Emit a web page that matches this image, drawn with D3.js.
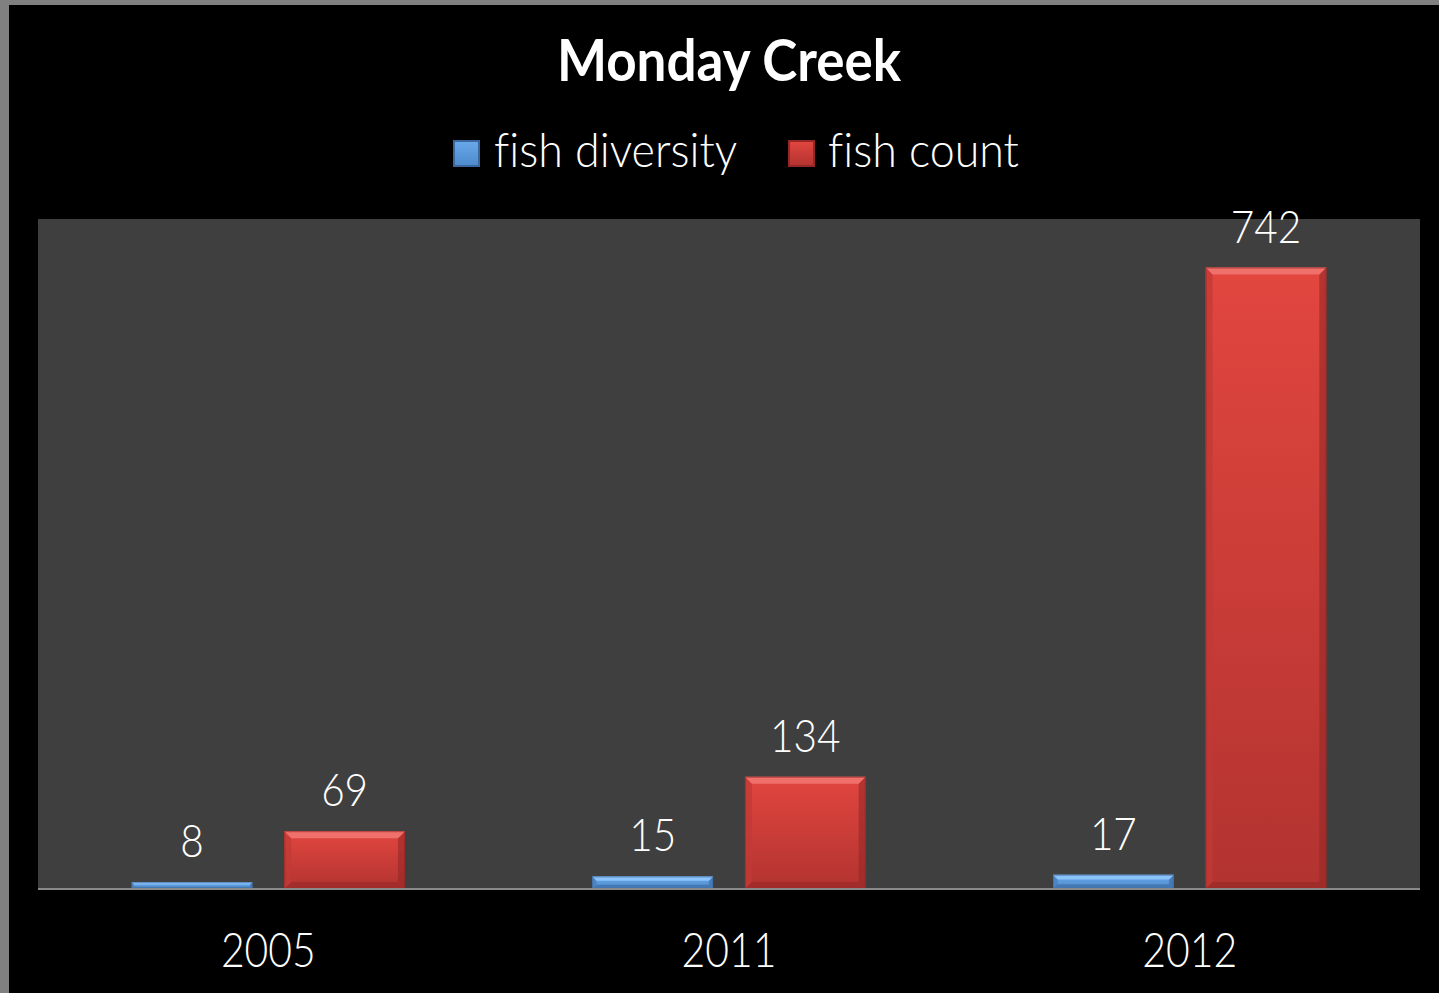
<!DOCTYPE html>
<html>
<head>
<meta charset="utf-8">
<script src="https://cdn.jsdelivr.net/npm/d3@7"></script>
<style>
  html, body { margin: 0; padding: 0; background: #808080; }
  svg { display: block; }
  text { font-family: Lato, "Open Sans", sans-serif; fill: #ffffff; font-variant-ligatures: none; }
</style>
</head>
<body>
<script>
// Monday Creek fish survey
const years = ["2005", "2011", "2012"];
const seriesNames = ["fish diversity", "fish count"];
const fishDiversity = [8, 15, 17];
const fishCount = [69, 134, 742];
const yMax = 800;

const W = 1439, H = 993;
const frame = { left: 9, top: 5 };
const plot = { x0: 38, x1: 1420, y0: 219, y1: 889 };

const svg = d3.select("body").append("svg").attr("width", W).attr("height", H);
const defs = svg.append("defs");

// chart backdrop inside the gray frame
svg.append("rect").attr("x", frame.left).attr("y", frame.top)
  .attr("width", W - frame.left).attr("height", H - frame.top).attr("fill", "#000");

// plot area
svg.append("rect").attr("x", plot.x0).attr("y", plot.y0)
  .attr("width", plot.x1 - plot.x0).attr("height", plot.y1 - plot.y0).attr("fill", "#3f3f3f");

const x0 = d3.scaleBand().domain(years).range([plot.x0, plot.x1]).padding(0);
const x1 = d3.scaleBand().domain(seriesNames).range([0, x0.bandwidth()])
  .paddingInner(0.209).paddingOuter(0.614);
const y = d3.scaleLinear().domain([0, yMax]).range([plot.y1, plot.y0]);

const palette = {
  "fish diversity": { top: "#6aa9ea", bottom: "#4d8acb", hi: "#8fc6ff", lo: "#3a689e", side: "#4a7fba" },
  "fish count":     { top: "#e2463f", bottom: "#b23330", hi: "#f27670", lo: "#952826", side: "#c23a36" }
};

seriesNames.forEach((s, i) => {
  const g = defs.append("linearGradient").attr("id", "grad" + i)
    .attr("x1", 0).attr("y1", 0).attr("x2", 0).attr("y2", 1);
  g.append("stop").attr("offset", "0%").attr("stop-color", palette[s].top);
  g.append("stop").attr("offset", "100%").attr("stop-color", palette[s].bottom);
});

const rows = years.map((yr, i) => ({
  year: yr,
  values: [
    { series: seriesNames[0], idx: 0, value: fishDiversity[i] },
    { series: seriesNames[1], idx: 1, value: fishCount[i] }
  ]
}));

const groups = svg.selectAll("g.year").data(rows).join("g")
  .attr("class", "year")
  .attr("transform", d => `translate(${x0(d.year)},0)`);

const bars = groups.selectAll("g.bar").data(d => d.values).join("g").attr("class", "bar");

bars.each(function (d) {
  const g = d3.select(this);
  const bx = x1(d.series), bw = x1.bandwidth();
  const top = y(d.value), bot = y(0), bh = bot - top;
  const c = palette[d.series];
  const b = Math.max(1.5, Math.min(7, bh / 3));

  g.append("rect").attr("x", bx).attr("y", top).attr("width", bw).attr("height", bh)
    .attr("fill", `url(#grad${d.idx})`);
  // bevel: left and right edges
  g.append("polygon").attr("points",
    [[bx, top], [bx + b, top + b], [bx + b, bot - b], [bx, bot]].join(" "))
    .attr("fill", c.side).attr("opacity", 0.75);
  g.append("polygon").attr("points",
    [[bx + bw, top], [bx + bw - b, top + b], [bx + bw - b, bot - b], [bx + bw, bot]].join(" "))
    .attr("fill", c.lo).attr("opacity", 0.6);
  // bevel: top highlight
  g.append("polygon").attr("points",
    [[bx, top], [bx + bw, top], [bx + bw - b, top + b], [bx + b, top + b]].join(" "))
    .attr("fill", c.hi).attr("opacity", 0.9);
  // bevel: bottom shade
  g.append("polygon").attr("points",
    [[bx, bot], [bx + bw, bot], [bx + bw - b, bot - b], [bx + b, bot - b]].join(" "))
    .attr("fill", c.lo).attr("opacity", 0.6);
  // soft rim
  g.append("rect").attr("x", bx + 0.5).attr("y", top + 0.5).attr("width", bw - 1).attr("height", bh - 1)
    .attr("fill", "none").attr("stroke", c.lo).attr("stroke-opacity", 0.6);

  // value label
  g.append("text")
    .attr("transform", `translate(${bx + bw / 2},${top - 25}) scale(0.9,1)`)
    .attr("text-anchor", "middle")
    .attr("font-size", 45)
    .attr("font-weight", 300)
    .text(d.value);
});

// category axis
const xAxis = svg.append("g").attr("transform", `translate(0,${plot.y1})`)
  .call(d3.axisBottom(x0).tickSize(0).tickPadding(0));
xAxis.select(".domain").attr("stroke", "#8a8a8a").attr("stroke-width", 2)
  .attr("d", `M${plot.x0},0H${plot.x1}`);
xAxis.selectAll(".tick text")
  .attr("y", 0).attr("dy", null)
  .attr("transform", "translate(0,78) scale(0.87,1)")
  .attr("font-size", 47)
  .attr("font-weight", 300)
  .attr("font-family", "Lato, 'Open Sans', sans-serif")
  .attr("fill", "#fff");

// title
svg.append("text")
  .attr("transform", `translate(${(plot.x0 + plot.x1) / 2},81) scale(0.93,1)`)
  .attr("text-anchor", "middle").attr("font-size", 57).attr("font-weight", "bold")
  .text("Monday Creek");

// legend
const legendItems = [
  { name: seriesNames[0], sx: 454, tx: 494 },
  { name: seriesNames[1], sx: 789, tx: 828 }
];
const lg = svg.append("g").attr("class", "legend");
legendItems.forEach((it, i) => {
  const c = palette[it.name];
  lg.append("rect").attr("x", it.sx).attr("y", 141).attr("width", 25).attr("height", 25)
    .attr("fill", `url(#grad${i})`).attr("stroke", c.lo).attr("stroke-width", 2);
  lg.append("text")
    .attr("transform", `translate(${it.tx},167) scale(0.953,1)`)
    .attr("font-size", 47)
    .attr("font-weight", 300)
    .text(it.name);
});
</script>
</body>
</html>
